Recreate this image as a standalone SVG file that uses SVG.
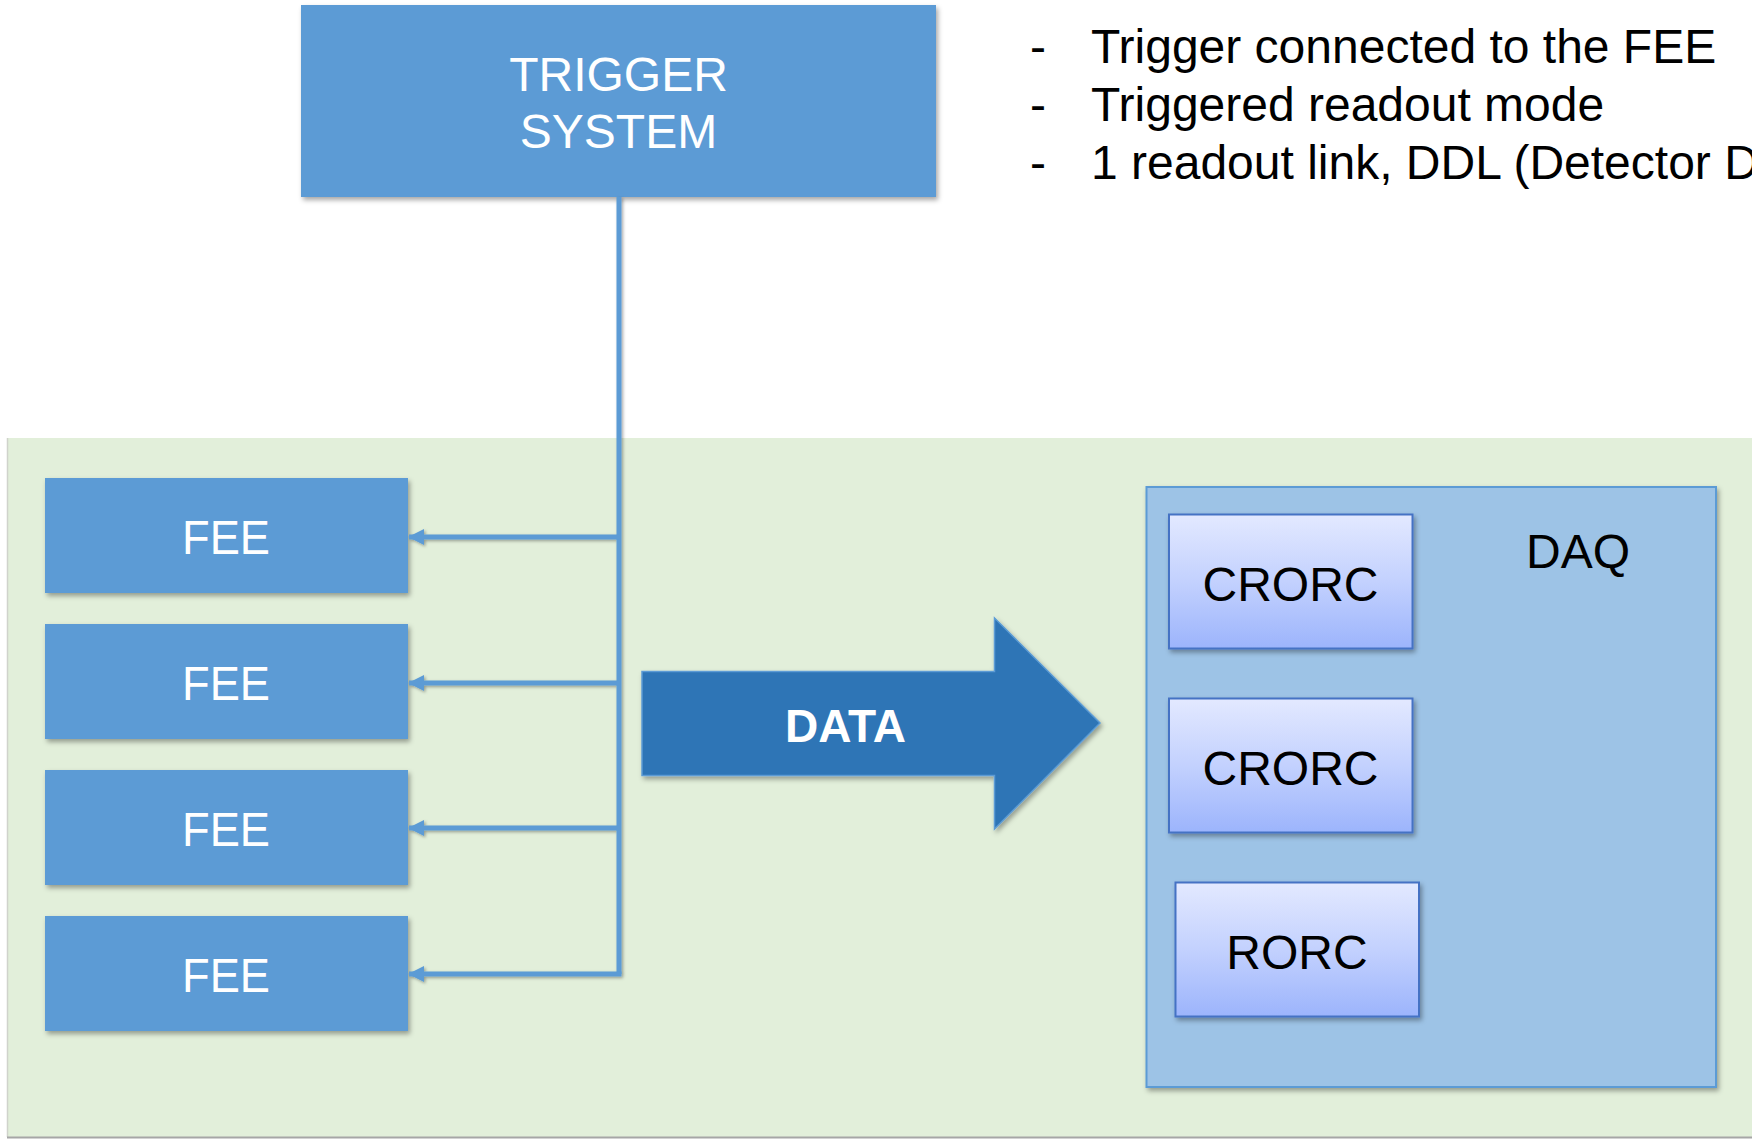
<svg xmlns="http://www.w3.org/2000/svg" width="1752" height="1139" viewBox="0 0 1752 1139">
<defs>
<filter id="sh" x="-10%" y="-10%" width="125%" height="130%">
<feDropShadow dx="2" dy="3" stdDeviation="2.5" flood-color="#000" flood-opacity="0.35"/>
</filter>
<filter id="lsh" filterUnits="userSpaceOnUse" x="0" y="0" width="1752" height="1139">
<feDropShadow dx="1.5" dy="1.5" stdDeviation="1.5" flood-color="#000" flood-opacity="0.35"/>
</filter>
<linearGradient id="rorc" x1="0" y1="0" x2="0" y2="1">
<stop offset="0" stop-color="#E3E9FF"/>
<stop offset="0.5" stop-color="#C3D1FE"/>
<stop offset="1" stop-color="#9CB4FC"/>
</linearGradient>
<marker id="ah" viewBox="0 0 16 16" refX="15" refY="8" markerWidth="16" markerHeight="16" markerUnits="userSpaceOnUse" orient="auto">
<path d="M0,0 L16,8 L0,16 z" fill="#5B9BD5"/>
</marker>
<style>
.blue{fill:#5B9BD5;filter:url(#sh)}
.wt{font-family:"Liberation Sans",Arial,sans-serif;font-size:48px;fill:#FFFFFF;text-anchor:middle}
.bk{font-family:"Liberation Sans",Arial,sans-serif;font-size:48px;fill:#000000}
.card{fill:url(#rorc);stroke:#4472C4;stroke-width:2;filter:url(#sh)}
.conn{fill:none;stroke:#5B9BD5;stroke-width:5}
</style>
</defs>
<rect width="1752" height="1139" fill="#FFFFFF"/>
<g id="panel">
<rect x="7" y="438" width="1750" height="699" fill="#E2EFDA"/>
<line x1="7.5" y1="438" x2="7.5" y2="1137" stroke="#D0D3CC" stroke-width="1.5"/>
<line x1="7" y1="1137.5" x2="1752" y2="1137.5" stroke="#A6A6A6" stroke-width="2"/>
</g>
<g id="trigger">
<rect class="blue" x="301" y="5" width="635" height="192"/>
<text class="wt" x="618.5" y="91">TRIGGER</text>
<text class="wt" x="618.5" y="148">SYSTEM</text>
</g>
<g id="notes">
<text class="bk" x="1030" y="63">-</text>
<text class="bk" x="1091" y="63">Trigger connected to the FEE</text>
<text class="bk" x="1030" y="121">-</text>
<text class="bk" x="1091" y="121">Triggered readout mode</text>
<text class="bk" x="1030" y="179">-</text>
<text class="bk" x="1091" y="179">1 readout link, DDL (Detector D</text>
</g>
<g id="fee1">
<rect class="blue" x="45" y="478" width="363" height="115"/>
<text class="wt" x="226" y="554" textLength="88" lengthAdjust="spacingAndGlyphs">FEE</text>
</g>
<g id="fee2">
<rect class="blue" x="45" y="624" width="363" height="115"/>
<text class="wt" x="226" y="700" textLength="88" lengthAdjust="spacingAndGlyphs">FEE</text>
</g>
<g id="fee3">
<rect class="blue" x="45" y="770" width="363" height="115"/>
<text class="wt" x="226" y="846" textLength="88" lengthAdjust="spacingAndGlyphs">FEE</text>
</g>
<g id="fee4">
<rect class="blue" x="45" y="916" width="363" height="115"/>
<text class="wt" x="226" y="992" textLength="88" lengthAdjust="spacingAndGlyphs">FEE</text>
</g>
<g id="connectors" filter="url(#lsh)">
<path class="conn" d="M619,197 L619,974"/>
<path class="conn" d="M619,537 L409,537" marker-end="url(#ah)"/>
<path class="conn" d="M619,683 L409,683" marker-end="url(#ah)"/>
<path class="conn" d="M619,828 L409,828" marker-end="url(#ah)"/>
<path class="conn" d="M621.5,974 L409,974" marker-end="url(#ah)"/>
</g>
<g id="data">
<path d="M642,671.5 L994.5,671.5 L994.5,618 L1100,723 L994.5,829 L994.5,775.5 L642,775.5 Z" fill="#2E75B6" stroke="#5B9BD5" stroke-width="1.5" filter="url(#sh)"/>
<text x="845.5" y="742" font-family="'Liberation Sans',Arial,sans-serif" font-size="46" font-weight="bold" fill="#FFFFFF" text-anchor="middle" textLength="121" lengthAdjust="spacingAndGlyphs">DATA</text>
</g>
<g id="daq">
<rect x="1146.5" y="487" width="569.5" height="600" fill="#9DC3E6" stroke="#5B9BD5" stroke-width="2" filter="url(#sh)"/>
<text class="bk" x="1578" y="568" text-anchor="middle">DAQ</text>
</g>
<g id="crorc1">
<rect class="card" x="1169" y="514.5" width="243.5" height="134"/>
<text class="bk" x="1290.5" y="601" text-anchor="middle">CRORC</text>
</g>
<g id="crorc2">
<rect class="card" x="1169" y="698.5" width="243.5" height="134"/>
<text class="bk" x="1290.5" y="785" text-anchor="middle">CRORC</text>
</g>
<g id="rorc">
<rect class="card" x="1175.5" y="882.5" width="243.5" height="134"/>
<text class="bk" x="1297" y="969" text-anchor="middle">RORC</text>
</g>
</svg>
